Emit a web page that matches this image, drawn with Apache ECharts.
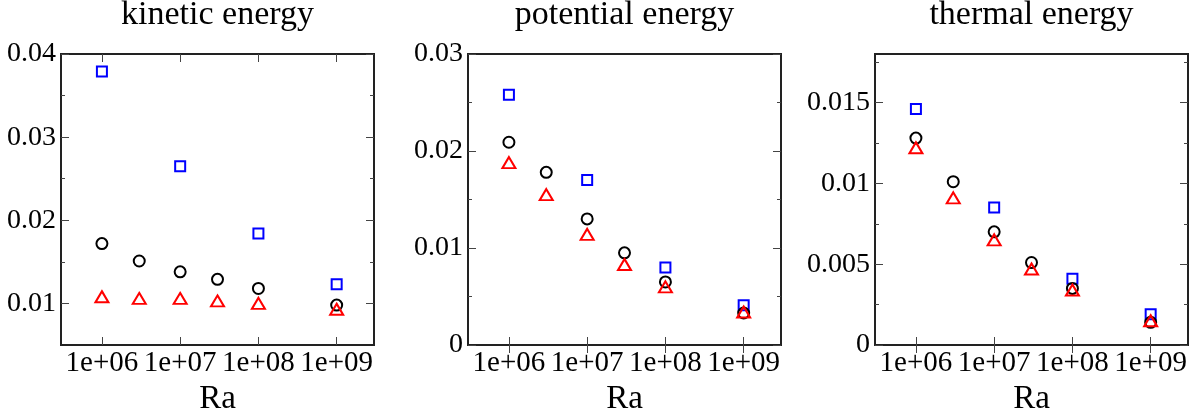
<!DOCTYPE html>
<html>
<head>
<meta charset="utf-8">
<script src="https://cdn.jsdelivr.net/npm/echarts@6/dist/echarts.min.js"></script>
<style>
html,body{margin:0;padding:0;background:#fff;}
#c{width:1200px;height:408px;}
</style>
</head>
<body>
<div id="c"></div>
<script>
// ---- data ----
const titles = ['kinetic energy', 'potential energy', 'thermal energy'];
const raAll = [1e6, 3e6, 1e7, 3e7, 1e8, 1e9];
const raSq = [1e6, 1e7, 1e8, 1e9];
const xTickLabels = [6, 7, 8, 9];           // decades shown as 1e+06 ...
const xMinRa = 3e5, xMaxRa = 3e9;

const keCircle   = [0.0172, 0.0151, 0.0138, 0.0129, 0.0118, 0.0098];
const keSquare   = [0.0379, 0.0265, 0.0184, 0.0123];
const keTriangle = [0.0108, 0.0106, 0.0106, 0.0103, 0.0100, 0.0093];

const peCircle   = [0.0209, 0.0178, 0.0130, 0.0095, 0.0065, 0.0033];
const peSquare   = [0.0258, 0.0170, 0.0080, 0.0041];
const peTriangle = [0.0188, 0.0155, 0.0114, 0.0083, 0.0060, 0.0034];

const teCircle   = [0.0128, 0.0101, 0.0070, 0.0051, 0.0035, 0.0014];
const teSquare   = [0.0146, 0.0085, 0.0041, 0.0019];
const teTriangle = [0.0122, 0.0091, 0.0065, 0.0047, 0.0034, 0.0015];

const yRanges = [[0.005, 0.04], [0, 0.03], [0, 0.018]];
const yMajor = [[0.01, 0.02, 0.03, 0.04], [0, 0.01, 0.02, 0.03], [0, 0.005, 0.01, 0.015]];
const yMinor = [[0.015, 0.025, 0.035], [0.005, 0.015, 0.025], [0.0025, 0.0075, 0.0125, 0.0175]];

const circles = [keCircle, peCircle, teCircle];
const squares = [keSquare, peSquare, teSquare];
const triangles = [keTriangle, peTriangle, teTriangle];

// ---- layout ----
const FONT = '"Liberation Serif", "Times New Roman", serif';
const grids = [
  {left: 61, top: 54, width: 313, height: 291},
  {left: 468, top: 54, width: 313, height: 291},
  {left: 875, top: 54, width: 313, height: 291}
];
const L = Math.log10;

const option = {
  animation: false,
  backgroundColor: '#fff',
  title: titles.map((t, i) => ({
    text: t,
    left: grids[i].left + grids[i].width / 2,
    top: -2,
    padding: 0,
    textAlign: 'center',
    textStyle: {fontFamily: FONT, fontSize: 34, fontWeight: 'normal', color: '#000'}
  })),
  grid: grids.map(g => Object.assign({show: true, borderColor: '#222', borderWidth: 2,
    backgroundColor: 'transparent', containLabel: false, outerBoundsMode: 'none'}, g)),
  xAxis: [],
  yAxis: [],
  series: []
};

const tickStyle = {color: '#444', width: 1};
for (let i = 0; i < 3; i++) {
  const xb = {
    type: 'value', gridIndex: i, min: L(xMinRa), max: L(xMaxRa), position: 'bottom',
    axisLine: {show: false}, splitLine: {show: false},
    axisTick: {show: true, inside: true, length: 8, lineStyle: tickStyle, customValues: xTickLabels},
    axisLabel: {show: true, customValues: xTickLabels, margin: 4,
      formatter: v => '1e+' + String(Math.round(v)).padStart(2, '0'),
      fontFamily: FONT, fontSize: 29, color: '#000'},
    name: 'Ra', nameLocation: 'middle', nameGap: 35,
    nameTextStyle: {fontFamily: FONT, fontSize: 33, color: '#000'}
  };
  const xt = {
    type: 'value', gridIndex: i, min: L(xMinRa), max: L(xMaxRa), position: 'top',
    axisLine: {show: false}, splitLine: {show: false}, axisLabel: {show: false},
    axisTick: {show: true, inside: true, length: 8, lineStyle: tickStyle, customValues: xTickLabels}
  };
  option.xAxis.push(xb, xt);
  const [ymin, ymax] = yRanges[i];
  const mk = (pos, major, labels) => ({
    type: 'value', gridIndex: i, min: ymin, max: ymax, position: pos,
    axisLine: {show: false}, splitLine: {show: false},
    axisTick: {show: true, inside: true, length: major ? 8 : 4, lineStyle: tickStyle,
      customValues: major ? yMajor[i] : yMinor[i]},
    axisLabel: labels ? {show: true, customValues: yMajor[i], margin: 5, formatter: v => String(v),
      fontFamily: FONT, fontSize: 28, color: '#000'} : {show: false}
  });
  option.yAxis.push(mk('left', true, true), mk('left', false, false), mk('right', true, false), mk('right', false, false));

  const xi = i * 2, yi = i * 4;
  option.series.push({
    type: 'scatter', xAxisIndex: xi, yAxisIndex: yi, symbol: 'rect', symbolSize: 10,
    itemStyle: {color: 'transparent', borderColor: '#0000ff', borderWidth: 2, opacity: 1},
    data: raSq.map((r, k) => [L(r), squares[i][k]])
  });
  option.series.push({
    type: 'scatter', xAxisIndex: xi, yAxisIndex: yi, symbol: 'circle', symbolSize: 11,
    itemStyle: {color: 'transparent', borderColor: '#000', borderWidth: 2, opacity: 1},
    data: raAll.map((r, k) => [L(r), circles[i][k]])
  });
  option.series.push({
    type: 'scatter', xAxisIndex: xi, yAxisIndex: yi, symbol: 'triangle', symbolSize: [13, 11],
    itemStyle: {color: 'transparent', borderColor: '#ff0000', borderWidth: 2, opacity: 1},
    data: raAll.map((r, k) => [L(r), triangles[i][k]])
  });
}

const chart = echarts.init(document.getElementById('c'), null, {renderer: 'canvas'});
chart.setOption(option);
</script>
</body>
</html>
